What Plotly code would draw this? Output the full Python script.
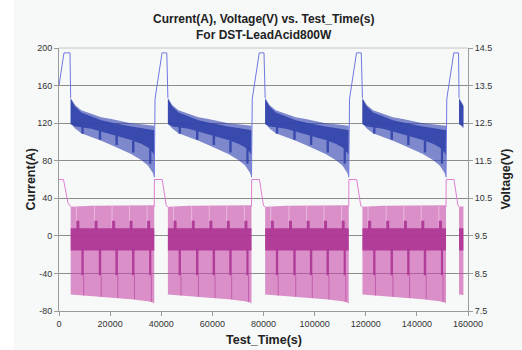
import plotly.graph_objects as go

# ---------------- data ----------------
# discharge (DST) segment start times and lengths, seconds
discharge_start = [4570, 42600, 80650, 118700, 156500]
discharge_len = [32700, 32700, 32700, 32700, 1700]

# envelope profile, time since the start of a discharge segment (s)
prof_t = [0, 1700, 4150, 8050, 11950, 15850, 19750, 23650, 27550, 30150, 32100, 32700]
# voltage envelope (V)
volt_hi = [13.17, 12.98, 12.84, 12.74, 12.66, 12.61, 12.55, 12.50, 12.47, 12.45, 12.44, 12.43]
volt_lo = [12.50, 12.36, 12.23, 12.13, 12.03, 11.92, 11.81, 11.68, 11.52, 11.38, 11.18, 11.06]
volt_core_hi = [13.15, 12.94, 12.78, 12.67, 12.58, 12.52, 12.46, 12.41, 12.37, 12.34, 12.32, 12.31]
volt_core_lo = [12.47, 12.41, 12.39, 12.35, 12.28, 12.21, 12.13, 12.05, 11.95, 11.86, 11.72, 11.65]
# current envelope (A)
curr_hi = [31.0, 31.5, 31.5, 32.0, 32.0, 32.0, 32.0, 32.0, 32.0, 32.0, 32.5, 32.5]
curr_lo = [-62.5, -63.0, -63.5, -64.2, -65.0, -65.8, -66.6, -67.5, -68.6, -69.6, -71.0, -72.0]
curr_core_hi = [8, 8, 8, 8, 8, 8, 8, 8, 8, 8, 8, 8]
curr_core_lo = [-15.5, -15.5, -15.5, -15.5, -15.5, -15.5, -15.5, -15.5, -15.5, -15.5, -15.5, -15.5]

# periodic high-power pulses inside each discharge (time since segment start)
up_start = [2200, 9300, 16200, 23000, 29900]
up_end = [3400, 10500, 17400, 24200, 31100]
up_top = [16, 16, 16, 16, 16]
up_base = [7, 7, 7, 7, 7]
dn_start = [4200, 11000, 17500, 24000, 30700]
dn_end = [5100, 11950, 18450, 24950, 31550]
dn_base = [-14.5, -14.5, -14.5, -14.5, -14.5]
dn_bottom = [-42, -42, -42, -42, -42]
dn_line_bottom = [-63.6, -64.8, -66.0, -67.4, -70.2]
volt_dn_top = [12.40, 12.29, 12.17, 12.03, 11.80]
volt_dn_bot = [12.22, 12.06, 11.92, 11.72, 11.42]

# charge segments
chg0_t = [0, 1950, 4300]
chg0_v = [13.5, 14.37, 14.37]
chg0_ct = [0, 1760, 3510]
chg0_i = [60, 60, 35]
chg_t = [0, 80, 310, 3040, 4900]          # time since end of a discharge
chg_v = [11.06, 12.5, 13.15, 14.37, 14.37]
chg_ct = [0, 60, 3100, 4700]
chg_i = [31, 60, 60, 32]

x_ticks = [0, 20000, 40000, 60000, 80000, 100000, 120000, 140000, 160000]
x_ticktext = ["0", "20000", "40000", "60000", "80000", "100000", "120000", "140000", "160000"]
y_ticks = [-80, -40, 0, 40, 80, 120, 160, 200]
y_ticktext = ["-80", "-40", "0", "40", "80", "120", "160", "200"]
y2_ticks = [7.5, 8.5, 9.5, 10.5, 11.5, 12.5, 13.5, 14.5]
y2_ticktext = ["7.5", "8.5", "9.5", "10.5", "11.5", "12.5", "13.5", "14.5"]

# ---------------- build shapes from data ----------------
def bands(hi, lo):
    xs, ys = [], []
    for s, L in zip(discharge_start, discharge_len):
        idx = [k for k, t in enumerate(prof_t) if t <= L]
        xs += [s + prof_t[k] for k in idx] + [s + prof_t[k] for k in reversed(idx)] + [None]
        ys += [hi[k] for k in idx] + [lo[k] for k in reversed(idx)] + [None]
    return xs, ys

def rects(starts, ends, tops, bots):
    xs, ys = [], []
    for s, L in zip(discharge_start, discharge_len):
        for a, b, t, u in zip(starts, ends, tops, bots):
            if b <= L:
                xs += [s + a, s + b, s + b, s + a, None]
                ys += [t, t, u, u, None]
    return xs, ys

def vlines(pos, tops, bots):
    xs, ys = [], []
    for s, L in zip(discharge_start, discharge_len):
        for p, t, u in zip(pos, tops, bots):
            if p <= L:
                xs += [s + p, s + p, None]
                ys += [t, u, None]
    return xs, ys

def charge_lines(t0, v0, tr, vr, first_hi):
    xs, ys = list(t0) + [discharge_start[0]], list(v0) + [first_hi]
    xs.append(None); ys.append(None)
    for k in range(len(discharge_start) - 1):
        e = discharge_start[k] + discharge_len[k]
        xs += [e + t for t in tr] + [discharge_start[k + 1], None]
        ys += list(vr) + [first_hi, None]
    return xs, ys

MAG_LIGHT = "rgba(198,72,168,0.60)"
MAG_CORE = "rgba(172,52,148,0.90)"
BLU_LIGHT = "rgba(45,60,175,0.60)"
BLU_CORE = "rgba(50,68,170,0.92)"

fig = go.Figure()

def poly(xs, ys, color, yaxis="y"):
    fig.add_trace(go.Scatter(x=xs, y=ys, mode="lines", fill="toself", fillcolor=color,
                             line=dict(width=0), yaxis=yaxis, hoverinfo="skip",
                             showlegend=False))

def thin(xs, ys, color, yaxis="y"):
    fig.add_trace(go.Scatter(x=xs, y=ys, mode="lines", line=dict(color=color, width=1),
                             yaxis=yaxis, hoverinfo="skip", showlegend=False))

# current (left axis)
poly(*bands(curr_hi, curr_lo), MAG_LIGHT)
thin(*vlines(up_start, [31.5] * 5, up_base), "rgba(255,235,250,0.45)")
thin(*vlines(dn_end, dn_bottom, dn_line_bottom), "rgba(175,55,150,0.55)")
poly(*bands(curr_core_hi, curr_core_lo), MAG_CORE)
poly(*rects(up_start, up_end, up_top, up_base), MAG_CORE)
poly(*rects(dn_start, dn_end, dn_base, dn_bottom), MAG_CORE)
cx, cy = charge_lines(chg0_ct, chg0_i, chg_ct, chg_i, curr_hi[0])
fig.add_trace(go.Scatter(x=cx, y=cy, mode="lines", line=dict(color="#e07fd2", width=1),
                         showlegend=False, hoverinfo="skip"))

# voltage (right axis)
poly(*bands(volt_hi, volt_lo), BLU_LIGHT, "y2")
poly(*bands(volt_core_hi, volt_core_lo), BLU_CORE, "y2")
poly(*rects(dn_start, dn_end, volt_dn_top, volt_dn_bot), BLU_CORE, "y2")
vx, vy = charge_lines(chg0_t, chg0_v, chg_t, chg_v, volt_hi[0])
fig.add_trace(go.Scatter(x=vx, y=vy, mode="lines", line=dict(color="#6f78e0", width=1),
                         yaxis="y2", showlegend=False, hoverinfo="skip"))

FONT = "Liberation Sans, Arial, sans-serif"
BG = "#f7f9f9"
axcol = "#9a9a9a"

fig.update_layout(
    width=522, height=350, autosize=False,
    margin=dict(l=59, r=54, t=48, b=39, autoexpand=False),
    paper_bgcolor=BG, plot_bgcolor=BG,
    font=dict(family=FONT, size=9, color="#333333"),
    showlegend=False,
    xaxis=dict(range=[0, 160000], tickvals=x_ticks, ticktext=x_ticktext,
               showgrid=False, zeroline=False, showline=True, linecolor=axcol,
               ticks="outside", ticklen=4, tickcolor=axcol, tickfont=dict(size=9),
               automargin=False),
    yaxis=dict(range=[-80, 200], tickvals=y_ticks, ticktext=y_ticktext,
               showgrid=True, gridcolor="#8c8c8c", gridwidth=1, zeroline=False,
               showline=True, linecolor=axcol, ticks="outside", ticklen=4,
               tickcolor=axcol, tickfont=dict(size=9), automargin=False),
    yaxis2=dict(range=[7.5, 14.5], tickvals=y2_ticks, ticktext=y2_ticktext,
                overlaying="y", side="right", showgrid=False, zeroline=False,
                showline=True, linecolor=axcol, ticks="outside", ticklen=4,
                tickcolor=axcol, tickfont=dict(size=9), automargin=False),
    shapes=[
        dict(type="rect", xref="paper", yref="paper", x0=-59 / 409, x1=-45 / 409,
             y0=-0.2, y1=1.25, fillcolor="white", line=dict(width=0), layer="below"),
        dict(type="line", xref="paper", yref="paper", x0=0, x1=1, y0=1, y1=1,
             line=dict(color="#c4c4c4", width=1), layer="above"),
    ],
    annotations=[
        dict(text="<b>Current(A), Voltage(V) vs. Test_Time(s)<br>For DST-LeadAcid800W</b>",
             xref="paper", yref="paper", x=0.5, y=(311 - 26.5) / 263, xanchor="center",
             yanchor="middle", showarrow=False, font=dict(size=12, color="#222222")),
        dict(text="<b>Current(A)</b>", xref="paper", yref="paper", x=(30 - 59) / 409,
             y=0.5, textangle=-90, xanchor="center", yanchor="middle", showarrow=False,
             font=dict(size=12.5, color="#222222")),
        dict(text="<b>Voltage(V)</b>", xref="paper", yref="paper", x=(505 - 59) / 409,
             y=0.5, textangle=-90, xanchor="center", yanchor="middle", showarrow=False,
             font=dict(size=12.5, color="#222222")),
        dict(text="<b>Test_Time(s)</b>", xref="paper", yref="paper", x=0.5,
             y=(311 - 340) / 263, xanchor="center", yanchor="middle", showarrow=False,
             font=dict(size=12.5, color="#222222")),
    ],
)

fig.write_html(
    "out.html",
    config={"responsive": False, "displayModeBar": False},
    post_script="document.body.style.margin='0';document.body.style.padding='0';"
                "document.body.style.overflow='hidden';"
                "document.documentElement.style.overflow='hidden';",
)
